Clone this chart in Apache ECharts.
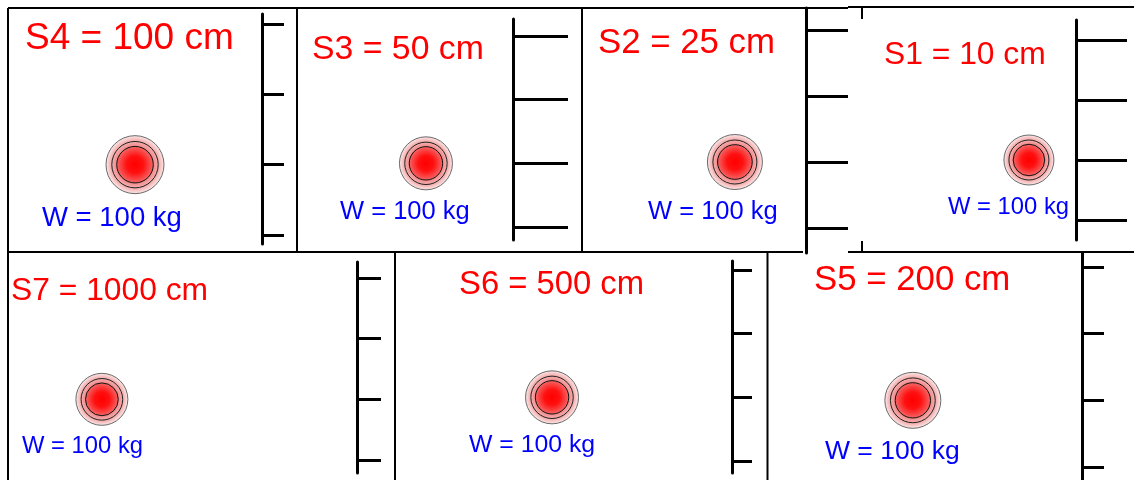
<!DOCTYPE html>
<html>
<head>
<meta charset="utf-8">
<script src="https://cdn.jsdelivr.net/npm/echarts@6/dist/echarts.min.js"></script>
<style>
html,body{margin:0;padding:0;background:#fff;}
#chart{width:1134px;height:480px;}
</style>
</head>
<body>
<div id="chart"></div>
<script>
// ---------------- data ----------------
const panelNames  = ['S4', 'S3', 'S2', 'S1', 'S7', 'S6', 'S5'];
const distancesCm = [100, 50, 25, 10, 1000, 500, 200];
const weightsKg   = [100, 100, 100, 100, 100, 100, 100];
const ballHeight  = [1, 1, 1, 1, 1, 1, 1];            // height of the ball on each ruler (tick units)
const ballAcross  = [0.50, 0.597, 0.684, 0.779, 0.269, 0.466, 0.463]; // horizontal place inside panel (0..1)
const rulerTicks  = [0, 1, 2, 3];

// ---------------- layout (pixels) ----------------
// panel left edge, ruler x, ruler top/bottom, y of tick 3 / tick 0, tick length, ball radius
const layout = [
  {left:8,   rx:262,  top:14,  bot:244, t3:24,  t0:235, tl:22, br:29},
  {left:297, rx:513,  top:19,  bot:240, t3:36,  t0:227, tl:55, br:26.5},
  {left:581, rx:806,  top:8,   bot:253, t3:30,  t0:228, tl:42, br:27.5},
  {left:863, rx:1076, top:20,  bot:240, t3:40,  t0:220, tl:51, br:25},
  {left:8,   rx:357,  top:262, bot:473, t3:278, t0:460, tl:24, br:26},
  {left:395, rx:732,  top:261, bot:473, t3:270, t0:461, tl:20, br:26.5},
  {left:767, rx:1082, top:253, bot:480, t3:267, t0:467, tl:22, br:28}
];
// label positions: [left, top, fontSize]
const sLabelPos = [[25,20,37],[312,33,33.8],[598,26,34.8],[884,39,31.8],[11,275,31.8],[459,268,32.8],[814,263,34.8]];
const wLabelPos = [[42,204,27.5],[340,199,25.5],[648,199,25.5],[948,195,23.8],[22,434,23.8],[469,433,24.8],[825,438,26.5]];

const FONT = '"Liberation Sans", Arial, sans-serif';

const grids = [], xAxes = [], yAxes = [], series = [], titles = [];
layout.forEach((L, i) => {
  const pxPer = (L.t0 - L.t3) / (rulerTicks.length - 1);
  const yMin = -(L.bot - L.t0) / pxPer;
  const yMax = (rulerTicks.length - 1) + (L.t3 - L.top) / pxPer;
  grids.push({left:L.left, right:1134 - L.rx, top:L.top, bottom:480 - L.bot, outerBoundsMode:'none', containLabel:false});
  xAxes.push({gridIndex:i, type:'value', min:0, max:1, show:false});
  yAxes.push({
    gridIndex:i, type:'value', position:'right', min:yMin, max:yMax,
    axisLine:{show:true, onZero:false, lineStyle:{color:'#000', width:3}},
    axisTick:{show:true, inside:false, length:L.tl, customValues:rulerTicks, lineStyle:{color:'#000', width:3}},
    axisLabel:{show:false}, splitLine:{show:false}
  });
  const R = L.br;
  series.push({
    type:'custom', xAxisIndex:i, yAxisIndex:i, clip:false,
    data:[[ballAcross[i], ballHeight[i]]],
    renderItem:(params, api) => {
      const c = api.coord([api.value(0), api.value(1)]);
      const rad = (stops) => ({type:'radial', x:0.5, y:0.5, r:0.5,
        colorStops: stops.map(s => ({offset:s[0], color:s[1]}))});
      return {type:'group', children:[
        {type:'circle', shape:{cx:c[0], cy:c[1], r:R},
         style:{fill:rad([[0,'#f08080'],[0.78,'#f2a4a4'],[1,'#fdeeee']]), stroke:'#6a6a6a', lineWidth:1}},
        {type:'circle', shape:{cx:c[0], cy:c[1], r:R*0.8},
         style:{fill:rad([[0,'#ff4040'],[0.78,'#f08a8a'],[1,'#f6b4b4']]), stroke:'#222', lineWidth:1}},
        {type:'circle', shape:{cx:c[0], cy:c[1], r:R*0.63},
         style:{fill:rad([[0,'#ff0000'],[0.45,'#ff1010'],[1,'#f56a6a']]), stroke:'#111', lineWidth:1}}
      ]};
    }
  });
  titles.push({text:`${panelNames[i]} = ${distancesCm[i]} cm`, left:sLabelPos[i][0], top:sLabelPos[i][1], padding:0,
    textStyle:{color:'#ff0000', fontSize:sLabelPos[i][2], fontFamily:FONT, fontWeight:'normal'}});
  titles.push({text:`W = ${weightsKg[i]} kg`, left:wLabelPos[i][0], top:wLabelPos[i][1], padding:0,
    textStyle:{color:'#0000ff', fontSize:wLabelPos[i][2], fontFamily:FONT, fontWeight:'normal'}});
});

// panel frames (decoration)
const seg = (x1,y1,x2,y2) => ({type:'line', shape:{x1,y1,x2,y2}, style:{stroke:'#000', lineWidth:2}, silent:true});
const frames = [
  seg(8,8,848,8), seg(848,7,1134,7),
  seg(8,8,8,480), seg(297,8,297,252), seg(582,8,582,252),
  seg(8,252,803,252), seg(848,252,1134,252),
  seg(862,7,862,19), seg(862,241,862,252),
  seg(395,252,395,480), seg(767.5,252,767.5,480)
];

const chart = echarts.init(document.getElementById('chart'), null, {renderer:'canvas'});
chart.setOption({
  backgroundColor:'#ffffff',
  animation:false,
  title:titles,
  grid:grids, xAxis:xAxes, yAxis:yAxes, series:series,
  graphic:{elements:frames}
});
</script>
</body>
</html>
